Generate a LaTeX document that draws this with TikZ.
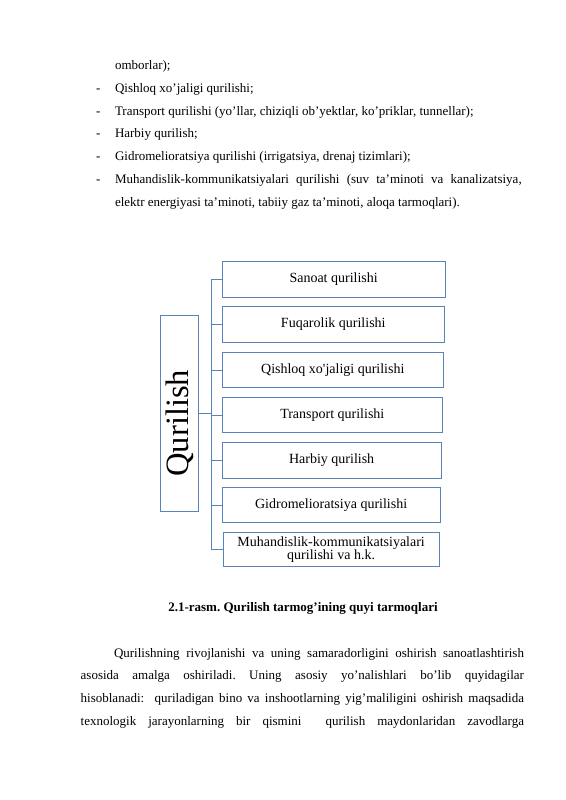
\documentclass[tikz,border=0pt]{standalone}
\usepackage{fontspec}
\setmainfont{Liberation Serif}
\definecolor{boxblue}{RGB}{88,132,186}
\begin{document}
\frenchspacing
\begin{tikzpicture}[x=1pt,y=-1pt,
  body/.style={anchor=base west,inner sep=0pt,outer sep=0pt,font=\fontsize{13}{15}\selectfont\frenchspacing},
  dashmark/.style={anchor=base west,inner sep=0pt,outer sep=0pt,font=\fontsize{13}{15}\selectfont},
  catbox/.style={draw=boxblue,line width=0.8pt,inner sep=0pt,outer sep=0pt,align=center,font=\fontsize{14}{13.6}\selectfont},
  link/.style={draw=boxblue,line width=0.8pt}]
\useasboundingbox (0,0) rectangle (565,800);
\fill[white] (0,0) rectangle (565,800);
% list lines
\node[body] (l0) at (115,69.8) {omborlar);};
\node[dashmark] (d1) at (96,92.5) {-};
\node[body] (l1) at (115,92.5) {Qishloq xo’jaligi qurilishi;};
\node[dashmark] (d2) at (96,115.2) {-};
\node[body] (l2) at (115,115.2) {Transport qurilishi (yo’llar, chiziqli ob’yektlar, ko’priklar, tunnellar);};
\node[dashmark] (d3) at (96,137.9) {-};
\node[body] (l3) at (115,137.9) {Harbiy qurilish;};
\node[dashmark] (d4) at (96,160.6) {-};
\node[body] (l4) at (115,160.6) {Gidromelioratsiya qurilishi (irrigatsiya, drenaj tizimlari);};
\node[dashmark] (d5) at (96,183.3) {-};
\node[body] (l5) at (115,183.3) {\makebox[406.7pt][s]{Muhandislik-kommunikatsiyalari qurilishi (suv ta’minoti va kanalizatsiya,}};
\node[body] (l6) at (115,206.0) {elektr energiyasi ta’minoti, tabiiy gaz ta’minoti, aloqa tarmoqlari).};
% diagram
\node[catbox,rotate=90,minimum width=196pt,minimum height=37.6pt,font=\fontsize{32.6}{34}\selectfont] (q) at (179.5,413.7) {Qurilish\hspace{19pt}};
\node[catbox,minimum width=222.7pt,minimum height=36.3pt] (b1) at (333.65,279.15) {Sanoat qurilishi};
\node[catbox,minimum width=222pt,minimum height=35.6pt] (b2) at (333.3,324.5) {Fuqarolik qurilishi};
\node[catbox,minimum width=221pt,minimum height=35.4pt] (b3) at (332.8,370) {Qishloq xo\textquotesingle jaligi qurilishi};
\node[catbox,minimum width=220pt,minimum height=35.4pt] (b4) at (332.3,415) {Transport qurilishi};
\node[catbox,minimum width=218.7pt,minimum height=35.6pt] (b5) at (331.65,460.5) {Harbiy qurilish};
\node[catbox,minimum width=217.7pt,minimum height=35pt] (b6) at (331.15,505.2) {Gidromelioratsiya qurilishi};
\node[catbox,minimum width=216.3pt,minimum height=34pt] (b7) at (331.15,549.7) {Muhandislik-kommunikatsiyalari\\qurilishi va h.k.};
\coordinate (trunk) at (211,0);
\draw[link] (b1.west -| trunk) -- (b7.west -| trunk);
\foreach \b in {b1,b2,b3,b4,b5,b6,b7} {\draw[link] (\b.west) -- (\b.west -| trunk);}
\draw[link] (q.south) -- (q.south -| trunk);
% caption
\node[body,anchor=base,font=\fontsize{13}{15}\selectfont\bfseries] (cap) at (303,611) {2.1-rasm. Qurilish tarmog’ining quyi tarmoqlari};
% paragraph
\node[body] (p1) at (114,657) {\makebox[410pt][s]{Qurilishning rivojlanishi va uning samaradorligini oshirish sanoatlashtirish}};
\node[body] (p2) at (80.7,679.7) {\makebox[443.3pt][s]{asosida amalga oshiriladi. Uning asosiy yo’nalishlari bo’lib quyidagilar}};
\node[body] (p3) at (80.7,702.4) {\makebox[443.3pt][s]{hisoblanadi: \ quriladigan bino va inshootlarning yig’maliligini oshirish maqsadida}};
\node[body] (p4) at (80.7,725.1) {\makebox[443.3pt][s]{texnologik jarayonlarning bir qismini \ qurilish maydonlaridan zavodlarga}};
\end{tikzpicture}
\end{document}
